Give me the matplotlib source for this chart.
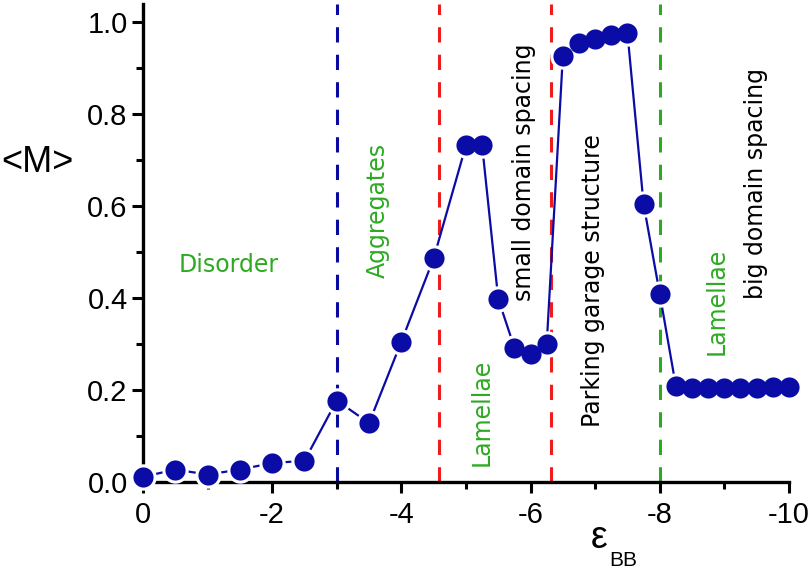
import matplotlib
matplotlib.use("Agg")
import matplotlib.pyplot as plt
from matplotlib.ticker import MultipleLocator

# Datos
eps_bb = [0, -0.5, -1, -1.5, -2, -2.5, -3, -3.5, -4, -4.5,
          -5, -5.25, -5.5, -5.75, -6, -6.25, -6.5, -6.75, -7, -7.25,
          -7.5, -7.75, -8, -8.25, -8.5, -8.75, -9, -9.25, -9.5, -9.75, -10]
m_avg = [0.011, 0.027, 0.016, 0.027, 0.041, 0.046, 0.177, 0.128, 0.305, 0.486,
         0.732, 0.732, 0.398, 0.292, 0.279, 0.299, 0.926, 0.954, 0.963, 0.972,
         0.976, 0.604, 0.409, 0.208, 0.204, 0.204, 0.204, 0.204, 0.205, 0.206, 0.206]

# Fronteras entre fases
bounds = [-3.0, -4.58, -6.32, -8.0]
bound_colors = ['#0a0aa0', '#ee1c1c', '#ee1c1c', '#2eaa22']

# Etiquetas de fases: (texto, x, y, color, rotación)
labels = [
    ('Disorder', -1.32, 0.472, '#2eaa22', 0),
    ('Aggregates', -3.64, 0.59, '#2eaa22', 90),
    ('Lamellae', -5.25, 0.152, '#2eaa22', 90),
    ('small domain spacing', -5.9, 0.674, 'black', 90),
    ('Parking garage structure', -6.96, 0.437, 'black', 90),
    ('Lamellae', -8.88, 0.393, '#2eaa22', 90),
    ('big domain spacing', -9.49, 0.648, 'black', 90),
]

blue = '#0b0ba6'
tick_font = ['Liberation Sans', 'DejaVu Sans']

fig = plt.figure(figsize=(8.1, 5.71), dpi=100)
ax = fig.add_axes([0.1765, 0.156, 0.7975, 0.8377])

# Líneas verticales discontinuas
for xb, c in zip(bounds, bound_colors):
    ax.axvline(xb, color=c, linestyle=(0, (5, 4)), linewidth=2.2, zorder=1)

# Curva con huecos alrededor de los marcadores (estilo Origin)
ax.plot(eps_bb, m_avg, color=blue, linewidth=1.6, zorder=2, clip_on=False)
ax.plot(eps_bb, m_avg, 'o', color='white', markersize=19, markeredgewidth=0,
        zorder=3, clip_on=False)
ax.plot(eps_bb, m_avg, 'o', color=blue, markersize=14.5, markeredgewidth=0,
        zorder=4, clip_on=False)

for txt, x, y, c, rot in labels:
    ax.text(x, y, txt, color=c, rotation=rot, ha='center', va='center',
            fontsize=17, family=['DejaVu Sans'])

ax.set_xlim(0, -10)
ax.set_ylim(0, 1.04)
ax.xaxis.set_minor_locator(MultipleLocator(1))
ax.yaxis.set_minor_locator(MultipleLocator(0.1))

for s in ['top', 'right']:
    ax.spines[s].set_visible(False)
for s in ['left', 'bottom']:
    ax.spines[s].set_linewidth(2.4)

ax.tick_params(which='major', direction='out', length=8, width=2.2, labelsize=21)
ax.tick_params(which='minor', direction='out', length=5, width=2.2)
ax.set_xticks([0, -2, -4, -6, -8, -10])
ax.set_xticklabels(['0', '-2', '-4', '-6', '-8', '-10'], family=tick_font)
ax.set_yticks([0.0, 0.2, 0.4, 0.6, 0.8, 1.0])
ax.set_yticklabels(['0.0', '0.2', '0.4', '0.6', '0.8', '1.0'], family=tick_font)
ax.tick_params(axis='x', pad=6)
ax.tick_params(axis='y', pad=3)

# Títulos de ejes
fig.text(37 / 810, 1 - 162 / 571, '<M>', ha='center', va='center', fontsize=26,
         family=tick_font)
fig.text(599 / 810, 1 - 538 / 571, 'ε', ha='center', va='center', fontsize=27,
         family=tick_font)
fig.text(623 / 810, 1 - 561 / 571, 'BB', ha='center', va='center', fontsize=15,
         family=tick_font)

fig.savefig('out.png', dpi=100)
